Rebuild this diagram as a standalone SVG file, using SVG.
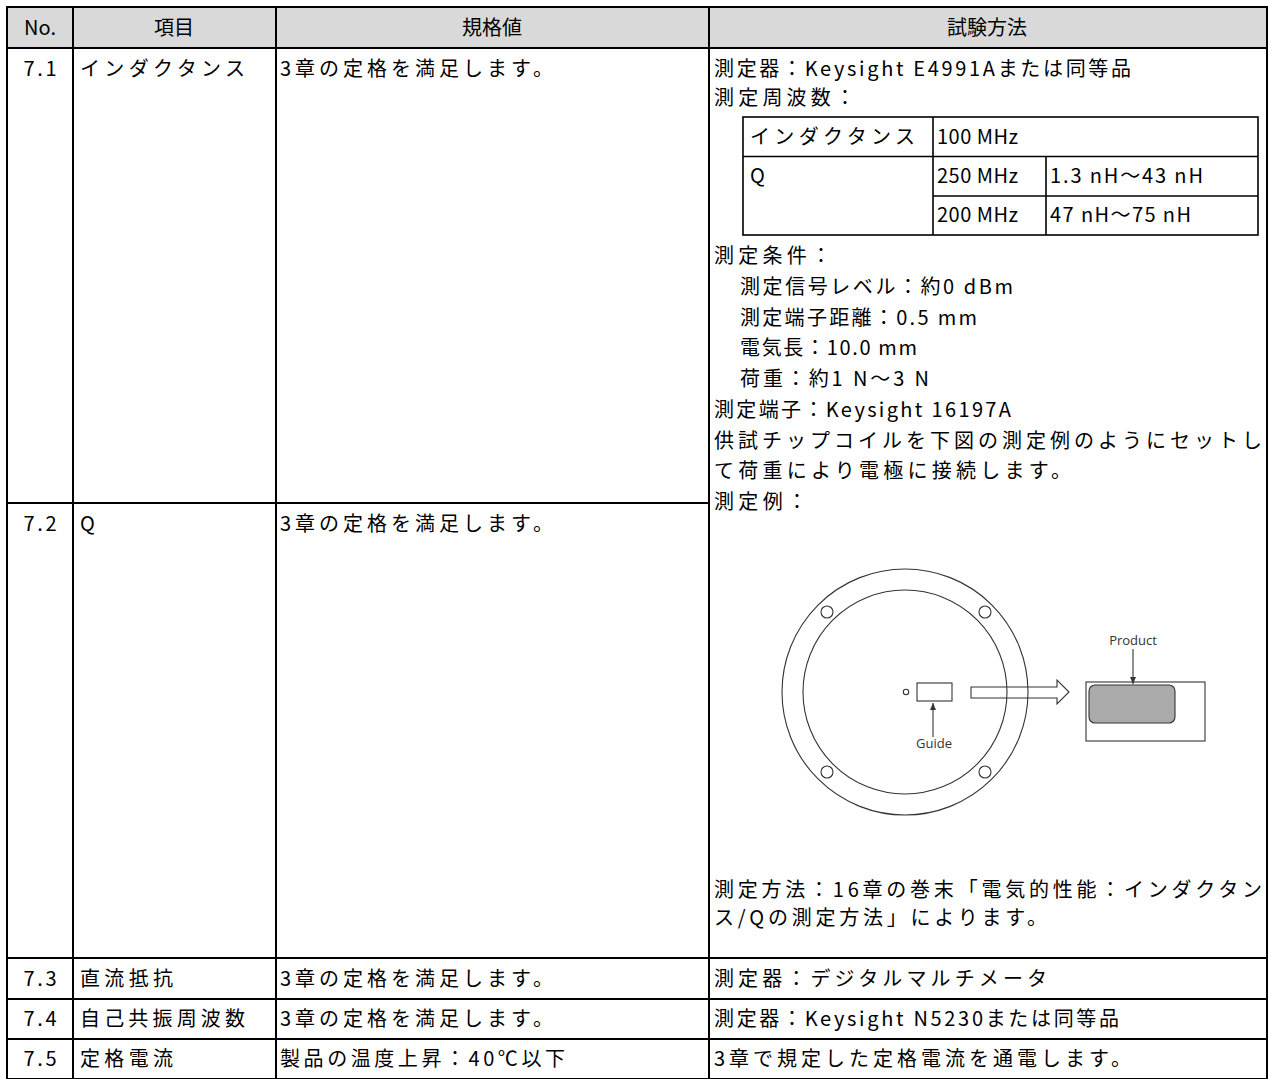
<svg xmlns="http://www.w3.org/2000/svg" width="1268" height="1079" viewBox="0 0 1268 1079">
<defs>
<style>
.t{font-family:"Noto Sans CJK JP","Noto Sans CJK SC",sans-serif;font-size:20px;fill:#000;}
.c{text-anchor:middle;}
.g{stroke:#000;stroke-width:2;fill:none;}
.n{stroke:#000;stroke-width:1.6;fill:none;}
.d{stroke:#333;stroke-width:1.1;fill:none;}
.s{font-family:"Open Sans","Noto Sans",sans-serif;font-size:13px;fill:#333;text-anchor:middle;}
</style>
<marker id="ah" markerWidth="8" markerHeight="8" refX="7" refY="4" orient="auto" markerUnits="userSpaceOnUse"><path d="M0,1 L7,4 L0,7 Z" fill="#333"/></marker>
</defs>
<rect x="0" y="0" width="1268" height="1079" fill="#fff"/>
<g id="header">
<rect x="7" y="7" width="1260" height="41" fill="#d9d9d9"/>
<text class="t c" x="40" y="35">No.</text>
<text class="t c" x="174" y="35">項目</text>
<text class="t c" x="492" y="35">規格値</text>
<text class="t c" x="987" y="35">試験方法</text>
</g>
<g id="grid">
<rect class="g" x="7" y="7" width="1260" height="1072"/>
<line class="g" x1="7" y1="48" x2="1267" y2="48"/>
<line class="g" x1="7" y1="503" x2="709" y2="503"/>
<line class="g" x1="7" y1="958" x2="1267" y2="958"/>
<line class="g" x1="7" y1="999" x2="1267" y2="999"/>
<line class="g" x1="7" y1="1039" x2="1267" y2="1039"/>
<line class="g" x1="73" y1="7" x2="73" y2="1079"/>
<line class="g" x1="276" y1="7" x2="276" y2="1079"/>
<line class="g" x1="709" y1="7" x2="709" y2="1079"/>
</g>
<g id="row71">
<text class="t c" x="40" y="76" textLength="33" lengthAdjust="spacing">7.1</text>
<text class="t" x="80" y="76" textLength="165" lengthAdjust="spacing">インダクタンス</text>
<text class="t" x="280" y="76" textLength="273" lengthAdjust="spacing">3章の定格を満足します。</text>
</g>
<g id="row72">
<text class="t c" x="40" y="531" textLength="33" lengthAdjust="spacing">7.2</text>
<text class="t" x="80" y="531">Q</text>
<text class="t" x="280" y="531" textLength="273" lengthAdjust="spacing">3章の定格を満足します。</text>
</g>
<g id="method">
<text class="t" x="714" y="76" textLength="417" lengthAdjust="spacing">測定器：Keysight E4991Aまたは同等品</text>
<text class="t" x="714" y="105" textLength="141" lengthAdjust="spacing">測定周波数：</text>
<g id="freqtable">
<rect class="n" x="743" y="117" width="515" height="118"/>
<line class="n" x1="743" y1="156.5" x2="1258" y2="156.5"/>
<line class="n" x1="933" y1="196" x2="1258" y2="196"/>
<line class="n" x1="933" y1="117" x2="933" y2="235"/>
<line class="n" x1="1046" y1="156.5" x2="1046" y2="235"/>
<text class="t" x="750" y="144" textLength="165" lengthAdjust="spacing">インダクタンス</text>
<text class="t" x="937" y="144" textLength="81" lengthAdjust="spacing">100 MHz</text>
<text class="t" x="750" y="183">Q</text>
<text class="t" x="937" y="183" textLength="81" lengthAdjust="spacing">250 MHz</text>
<text class="t" x="1050" y="183" textLength="153" lengthAdjust="spacing">1.3 nH～43 nH</text>
<text class="t" x="937" y="222" textLength="81" lengthAdjust="spacing">200 MHz</text>
<text class="t" x="1050" y="222" textLength="141" lengthAdjust="spacing">47 nH～75 nH</text>
</g>
<text class="t" x="714" y="263" textLength="117" lengthAdjust="spacing">測定条件：</text>
<text class="t" x="740" y="294" textLength="273" lengthAdjust="spacing">測定信号レベル：約0 dBm</text>
<text class="t" x="740" y="325" textLength="237" lengthAdjust="spacing">測定端子距離：0.5 mm</text>
<text class="t" x="740" y="355" textLength="177" lengthAdjust="spacing">電気長：10.0 mm</text>
<text class="t" x="740" y="386" textLength="189" lengthAdjust="spacing">荷重：約1 N～3 N</text>
<text class="t" x="714" y="417" textLength="297" lengthAdjust="spacing">測定端子：Keysight 16197A</text>
<text class="t" x="714" y="448" textLength="548" lengthAdjust="spacing">供試チップコイルを下図の測定例のようにセットし</text>
<text class="t" x="714" y="478" textLength="357" lengthAdjust="spacing">て荷重により電極に接続します。</text>
<text class="t" x="714" y="509" textLength="93" lengthAdjust="spacing">測定例：</text>
<text class="t" x="714" y="897" textLength="548" lengthAdjust="spacing">測定方法：16章の巻末「電気的性能：インダクタン</text>
<text class="t" x="714" y="925" textLength="333" lengthAdjust="spacing">ス/Qの測定方法」によります。</text>
</g>
<g id="figure">
<circle class="d" cx="905" cy="692" r="123"/>
<circle class="d" cx="905" cy="692" r="102"/>
<circle class="d" cx="827" cy="612" r="6"/>
<circle class="d" cx="985" cy="612" r="6"/>
<circle class="d" cx="827" cy="772" r="6"/>
<circle class="d" cx="985" cy="772" r="6"/>
<circle class="d" cx="906" cy="692" r="2.7"/>
<rect class="d" x="917" y="683" width="35" height="18" stroke-width="1.4"/>
<polygon class="d" points="971,687 1057,687 1057,680 1069,692 1057,704 1057,698 971,698"/>
<rect class="d" x="1086" y="682" width="119" height="59"/>
<rect x="1089" y="685" width="86" height="38" rx="6" fill="#aaaaaa" stroke="#333" stroke-width="1.1"/>
</g>
<g id="connectors">
<line class="d" x1="933" y1="737" x2="933" y2="703" marker-end="url(#ah)"/>
<line class="d" x1="1133" y1="649" x2="1133" y2="684" marker-end="url(#ah)"/>
</g>
<g id="labels">
<text class="s" x="934" y="748">Guide</text>
<text class="s" x="1133" y="645">Product</text>
</g>
<g id="row73">
<text class="t c" x="40" y="986" textLength="33" lengthAdjust="spacing">7.3</text>
<text class="t" x="80" y="986" textLength="93" lengthAdjust="spacing">直流抵抗</text>
<text class="t" x="280" y="986" textLength="273" lengthAdjust="spacing">3章の定格を満足します。</text>
<text class="t" x="714" y="986" textLength="333" lengthAdjust="spacing">測定器：デジタルマルチメータ</text>
</g>
<g id="row74">
<text class="t c" x="40" y="1026" textLength="33" lengthAdjust="spacing">7.4</text>
<text class="t" x="80" y="1026" textLength="165" lengthAdjust="spacing">自己共振周波数</text>
<text class="t" x="280" y="1026" textLength="273" lengthAdjust="spacing">3章の定格を満足します。</text>
<text class="t" x="714" y="1026" textLength="405" lengthAdjust="spacing">測定器：Keysight N5230または同等品</text>
</g>
<g id="row75">
<text class="t c" x="40" y="1066" textLength="33" lengthAdjust="spacing">7.5</text>
<text class="t" x="80" y="1066" textLength="93" lengthAdjust="spacing">定格電流</text>
<text class="t" x="280" y="1066" textLength="285" lengthAdjust="spacing">製品の温度上昇：40℃以下</text>
<text class="t" x="714" y="1066" textLength="417" lengthAdjust="spacing">3章で規定した定格電流を通電します。</text>
</g>
</svg>
